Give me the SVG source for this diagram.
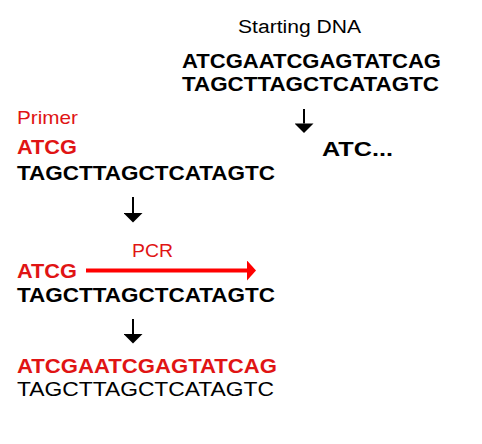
<svg xmlns="http://www.w3.org/2000/svg" width="482" height="444" viewBox="0 0 482 444">
<style>
text{font-family:"Liberation Sans",Arial,sans-serif}
.b{font-weight:bold;font-size:20px}
.n{font-size:19px}
.k{fill:#000}
.r{fill:#e01414}
</style>
<defs>
<marker id="ah" viewBox="0 0 10 20" refX="0" refY="10" markerWidth="10" markerHeight="19" markerUnits="userSpaceOnUse" orient="auto">
<path d="M0,0 L10,10 L0,20 z" fill="#000"/>
</marker>
<marker id="ahr" viewBox="0 0 9 20" refX="0" refY="10" markerWidth="9" markerHeight="20" markerUnits="userSpaceOnUse" orient="auto">
<path d="M0,0 L9,10 L0,20 z" fill="#ff0000"/>
</marker>
</defs>
<rect width="482" height="444" fill="#fff"/>
<g id="starting-dna">
<text x="238" y="33" style="font-size:18px" class="k" textLength="123" lengthAdjust="spacingAndGlyphs">Starting DNA</text>
<text x="182" y="67.5" class="b k" textLength="259" lengthAdjust="spacingAndGlyphs">ATCGAATCGAGTATCAG</text>
<text x="182" y="91" class="b k" textLength="257" lengthAdjust="spacingAndGlyphs">TAGCTTAGCTCATAGTC</text>
</g>
<g id="separated">
<text x="322" y="155.5" class="b k" textLength="71" lengthAdjust="spacingAndGlyphs">ATC...</text>
</g>
<g id="primer">
<text x="17" y="124" class="n r" textLength="61" lengthAdjust="spacingAndGlyphs">Primer</text>
<text x="17" y="154" class="b r" textLength="60" lengthAdjust="spacingAndGlyphs">ATCG</text>
<text x="17" y="179.5" class="b k" textLength="258" lengthAdjust="spacingAndGlyphs">TAGCTTAGCTCATAGTC</text>
</g>
<g id="pcr-step">
<text x="132" y="257" class="n r" textLength="41" lengthAdjust="spacingAndGlyphs">PCR</text>
<text x="17" y="277.5" class="b r" textLength="60" lengthAdjust="spacingAndGlyphs">ATCG</text>
<text x="17" y="302" class="b k" textLength="258" lengthAdjust="spacingAndGlyphs">TAGCTTAGCTCATAGTC</text>
</g>
<g id="product">
<text x="17" y="373" class="b r" textLength="260" lengthAdjust="spacingAndGlyphs">ATCGAATCGAGTATCAG</text>
<text x="17" y="395.5" class="k" style="font-size:20px" textLength="257" lengthAdjust="spacingAndGlyphs">TAGCTTAGCTCATAGTC</text>
</g>
<g id="connectors" stroke="#000" stroke-width="2" fill="none">
<line x1="304" y1="109" x2="304" y2="123.5" marker-end="url(#ah)"/>
<line x1="133" y1="197" x2="133" y2="213" marker-end="url(#ah)"/>
<line x1="133" y1="319" x2="133" y2="334" marker-end="url(#ah)"/>
<line x1="86" y1="270.5" x2="247" y2="270.5" stroke="#ff0000" stroke-width="4" marker-end="url(#ahr)"/>
</g>
</svg>
